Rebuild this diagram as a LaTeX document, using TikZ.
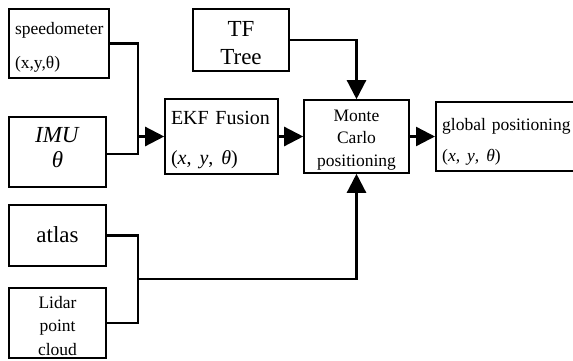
\documentclass[tikz,border=0pt]{standalone}
\usepackage{fontspec}
\setmainfont{Liberation Serif}
\usetikzlibrary{arrows.meta}
% spaced pose triple (x, y, theta) in italics
\newcommand{\posetriple}[1]{(\textit{x},\hspace{#1}\textit{y},\hspace{#1}\textit{θ})}
\begin{document}
\begin{tikzpicture}[x=1pt,y=-1pt,
  box/.style={draw, line width=1.6pt, inner sep=0pt},
  txt/.style={inner sep=0pt, align=center},
  link/.style={line width=2.4pt},
  arr/.style={link, -{Triangle[length=19pt,width=19pt]}},
  sm/.style={font=\fontsize{17.5}{21.5}\selectfont},
  lg/.style={font=\fontsize{23}{26}\selectfont}]
\useasboundingbox (0,0) rectangle (573,361);
\fill[white] (0,0) rectangle (573,361);

% sensor inputs
\node[box, minimum width=100pt, minimum height=69pt] (speedo) at (59,43.5) {};
\node[txt, sm, text width=88pt, align=left] (speedo-t) at (59,47)
  {speedometer\\[12.5pt](x,y,θ)};

\node[box, minimum width=97pt, minimum height=70pt] (imu) at (57.5,152) {};
\node[txt, font=\fontsize{23}{25}\selectfont] (imu-t) at (57.5,147.5)
  {\textit{IMU}\\\textit{θ}};

\node[box, minimum width=97pt, minimum height=61pt] (atlas) at (57.5,235.5) {};
\node[txt, lg] (atlas-t) at (57.5,234.5) {atlas};

\node[box, minimum width=97pt, minimum height=70pt] (lidar) at (57.5,323) {};
\node[txt, font=\fontsize{17.5}{23.2}\selectfont] (lidar-t) at (57.5,326)
  {Lidar\\point\\cloud};

\node[box, minimum width=96pt, minimum height=62pt] (tf) at (241,40) {};
\node[txt, font=\fontsize{23}{27.5}\selectfont] (tf-t) at (241,43.3) {TF\\Tree};

% processing stages
\node[box, minimum width=113pt, minimum height=75pt] (ekf) at (221.5,136.5) {};
\node[txt, font=\fontsize{20}{24}\selectfont, text width=101pt, align=left] (ekf-t) at (221.5,140.5)
  {EKF Fusion\\[16pt]\posetriple{8pt}};

\node[box, minimum width=105pt, minimum height=73pt] (monte) at (356.5,136.5) {};
\node[txt, font=\fontsize{17.5}{22.5}\selectfont] (monte-t) at (356.5,140)
  {Monte\\Carlo\\positioning};

\node[box, anchor=west, minimum width=145pt, minimum height=69pt] (global) at (435,136.5) {};
\node[txt, sm, anchor=west, text width=131pt, align=left] (global-t) at (442,141.5)
  {global positioning\\[9.5pt]\posetriple{7pt}};

% junction points
\coordinate (j1) at (138,136.5);
\coordinate (j2) at (138,279);

% connectors
\draw[link] (speedo.east) -| (j1);
\draw[link] ([yshift=-2pt]imu.east) -| (j1);
\draw[arr] (j1) -- (ekf.west);
\draw[arr] (tf.east) -| (monte.north);
\draw[arr] (ekf.east) -- (monte.west);
\draw[arr] (monte.east) -- (global.west);
\draw[link] (atlas.east) -| (j2);
\draw[link] (lidar.east) -| (j2);
\draw[arr] (j2) -| (monte.south);
\end{tikzpicture}
\end{document}
